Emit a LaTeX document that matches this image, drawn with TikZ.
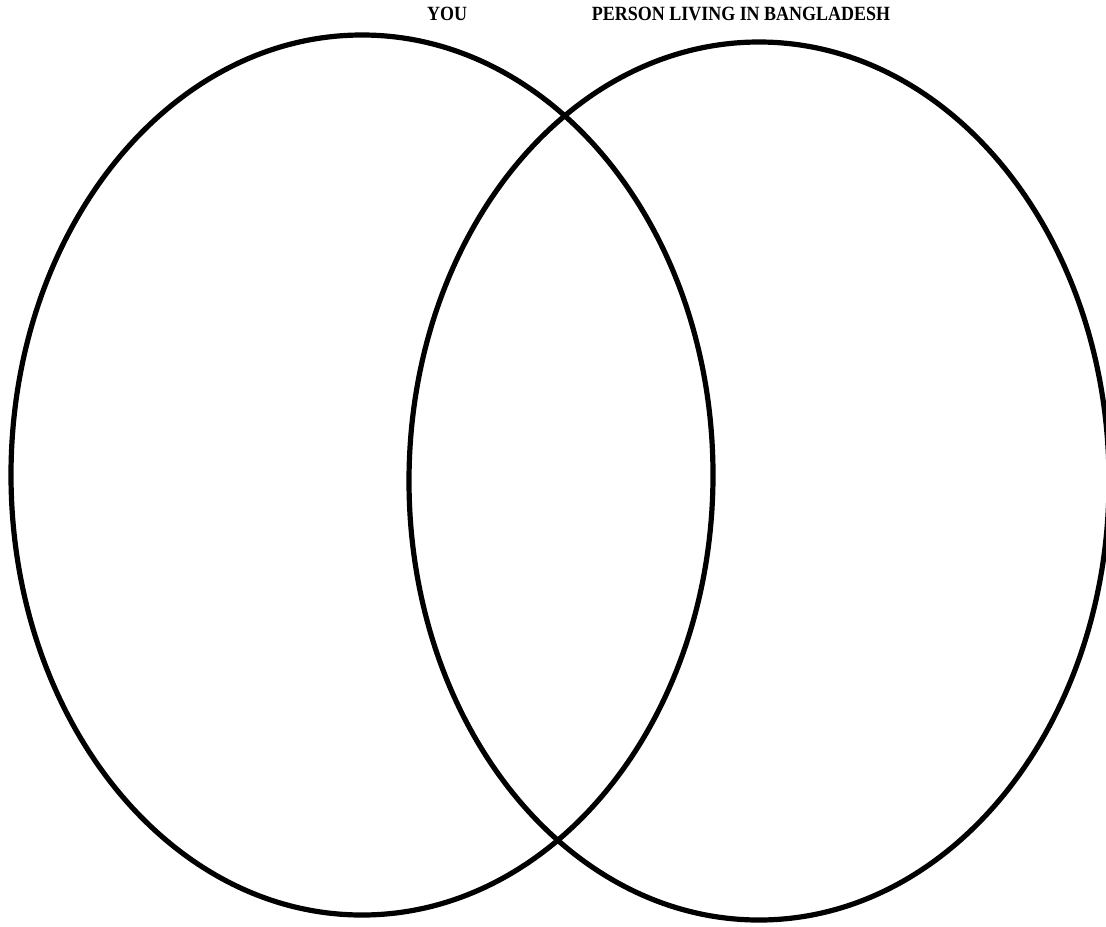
\documentclass[tikz,border=0pt]{standalone}
\usepackage{fontspec}
\setmainfont{Liberation Serif}
\newfontfamily\titlefont{Liberation Serif}[FakeStretch=0.89]
\usetikzlibrary{shapes.geometric,positioning}

\tikzset{
  setring/.style={ellipse,draw=black,line width=2.6pt,inner sep=0pt},
  settitle/.style={font=\titlefont\fontsize{10.1}{11}\selectfont\bfseries,inner sep=0pt}
}

\begin{document}
\begin{tikzpicture}[x=0.5pt,y=-0.5pt]
        \useasboundingbox (0,0) rectangle (1106,926);
        % the two sets
        \node[setring,minimum width=351pt,minimum height=440pt] (you) at (362,475) {};
        \node[setring,minimum width=350pt,minimum height=439pt] (person) at (759,481) {};
        % titles
        \node[settitle] (youtitle) at (447,14) {YOU};
        \node[settitle] (persontitle) at (741,14) {PERSON LIVING IN BANGLADESH};
      \end{tikzpicture}
\end{document}
